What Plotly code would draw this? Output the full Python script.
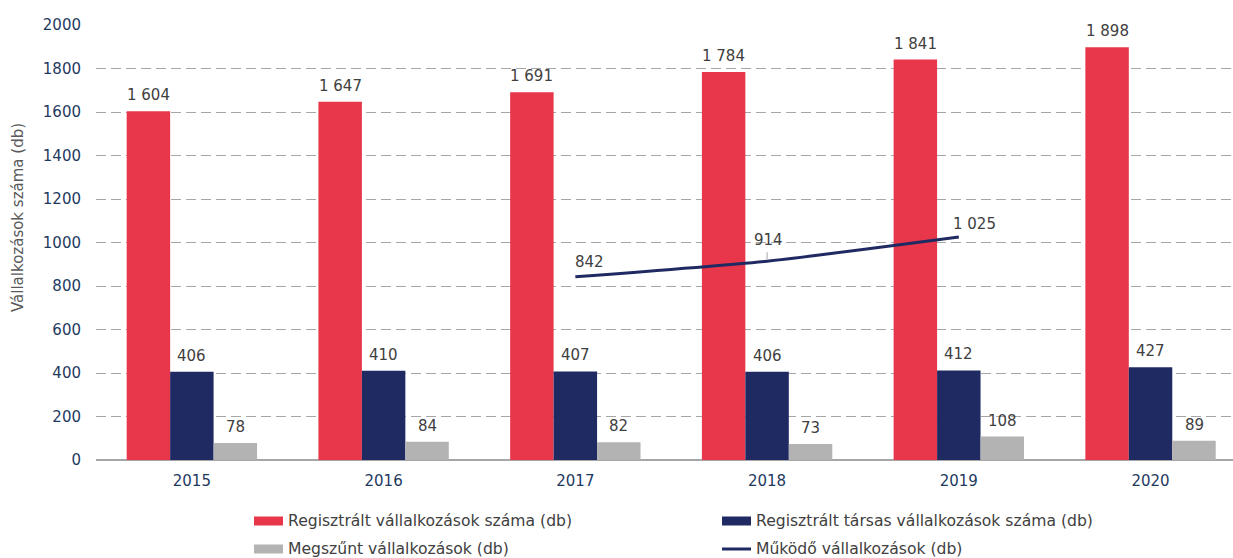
import plotly.graph_objects as go

# Yearly business counts
years = ["2015", "2016", "2017", "2018", "2019", "2020"]
registered = [1604, 1647, 1691, 1784, 1841, 1898]
registered_partnership = [406, 410, 407, 406, 412, 427]
closed = [78, 84, 82, 73, 108, 89]

operating_years = ["2017", "2018", "2019"]
operating = [842, 914, 1025]

y_ticks = [0, 200, 400, 600, 800, 1000, 1200, 1400, 1600, 1800, 2000]

series_names = [
    "Regisztrált vállalkozások száma (db)",
    "Regisztrált társas vállalkozások száma (db)",
    "Megszűnt vállalkozások (db)",
    "Működő vállalkozások (db)",
]

RED = "#E8374B"
NAVY = "#1F2A63"
GREY = "#B3B3B3"
LABEL = "#404040"
TICK = "#1F3A5F"
FONT = "DejaVu Sans"

# Plot area geometry (pixels)
L, R, T, B = 96, 0, 25, 98
W, H = 1233, 558
pw, ph = W - L - R, H - T - B
X_RANGE = [-0.5, 5.43]
Y_RANGE = [0, 2000]
BARGAP = 0.32
cat_px = pw / (X_RANGE[1] - X_RANGE[0])
bar_px = cat_px * (1 - BARGAP) / 3
unit_per_px = (Y_RANGE[1] - Y_RANGE[0]) / ph


def fmt(v):
    return f"{v:,}".replace(",", " ")


def px_x(px):
    return (px - L) / pw


def px_y(py):
    return (H - B - py) / ph


fig = go.Figure()
annotations = []
shapes = []

bar_series = [
    (series_names[0], registered, RED),
    (series_names[1], registered_partnership, NAVY),
    (series_names[2], closed, GREY),
]
for i, (name, vals, color) in enumerate(bar_series):
    fig.add_trace(go.Bar(
        x=years, y=vals, name=name,
        marker=dict(color=color, line=dict(width=0)),
    ))
    # value labels above each bar (category index as x position)
    for k, v in enumerate(vals):
        annotations.append(dict(
            x=k, y=v, xref="x", yref="y", text=fmt(v), showarrow=False,
            xanchor="center", yanchor="bottom",
            xshift=(i - 1) * bar_px, yshift=5,
            font=dict(family=FONT, size=15, color=LABEL),
        ))

fig.add_trace(go.Scatter(
    x=operating_years, y=operating, name=series_names[3],
    mode="lines",
    line=dict(color=NAVY, width=3, shape="spline", smoothing=0.6),
    cliponaxis=False,
))

# value labels of the line
line_label_pos = [("left", -2, 4), ("center", 1, 10), ("left", -8, 2)]
for yr, v, (anchor, dx, dy) in zip(operating_years, operating, line_label_pos):
    annotations.append(dict(
        x=years.index(yr), y=v, xref="x", yref="y", text=fmt(v),
        showarrow=False, xanchor=anchor, yanchor="bottom",
        xshift=dx, yshift=dy,
        font=dict(family=FONT, size=15, color=LABEL),
    ))

# short leader under the middle line label
mid = years.index(operating_years[1])
shapes.append(dict(
    type="line", xref="x", yref="y",
    x0=mid, x1=mid, y0=operating[1] + 2 * unit_per_px,
    y1=operating[1] + 9 * unit_per_px,
    line=dict(color="#A6A6A6", width=1),
))

legend_items = [
    (254, 521, "bar", RED, series_names[0]),
    (722, 521, "bar", NAVY, series_names[1]),
    (254, 549, "bar", GREY, series_names[2]),
    (722, 549, "line", NAVY, series_names[3]),
]

for x0, yc, kind, color, label in legend_items:
    if kind == "bar":
        shapes.append(dict(
            type="rect", xref="paper", yref="paper",
            x0=px_x(x0), x1=px_x(x0 + 29), y0=px_y(yc + 4.5), y1=px_y(yc - 4.5),
            fillcolor=color, line=dict(width=0),
        ))
    else:
        shapes.append(dict(
            type="line", xref="paper", yref="paper",
            x0=px_x(x0), x1=px_x(x0 + 29), y0=px_y(yc), y1=px_y(yc),
            line=dict(color=color, width=3),
        ))
    annotations.append(dict(
        xref="paper", yref="paper", x=px_x(x0 + 32), y=px_y(yc),
        xanchor="left", yanchor="middle", showarrow=False,
        text=label, font=dict(family=FONT, size=15.6, color=LABEL),
    ))

annotations.append(dict(
    xref="paper", yref="paper", x=px_x(18), y=px_y(218),
    xanchor="center", yanchor="middle", showarrow=False, textangle=-90,
    text="Vállalkozások száma (db)",
    font=dict(family=FONT, size=15, color="#595959"),
))

fig.update_layout(
    width=W, height=H,
    margin=dict(l=L, r=R, t=T, b=B, pad=0),
    paper_bgcolor="white", plot_bgcolor="white",
    barmode="group", bargap=BARGAP, bargroupgap=0,
    showlegend=False,
    font=dict(family=FONT, size=15, color=TICK),
    shapes=shapes, annotations=annotations,
    xaxis=dict(
        type="category", range=X_RANGE,
        showgrid=False, showline=False, zeroline=False,
        ticks="", ticklabelstandoff=10,
        tickfont=dict(family=FONT, size=15, color=TICK),
    ),
    yaxis=dict(
        range=Y_RANGE, tickvals=y_ticks,
        showgrid=True, gridcolor="#A6A6A6", gridwidth=1, griddash="10px,5px",
        zeroline=True, zerolinecolor="#A6A6A6", zerolinewidth=1.5,
        showline=False, ticks="", ticklabelstandoff=14,
        tickfont=dict(family=FONT, size=15, color=TICK),
    ),
)

fig.write_html("out.html")
